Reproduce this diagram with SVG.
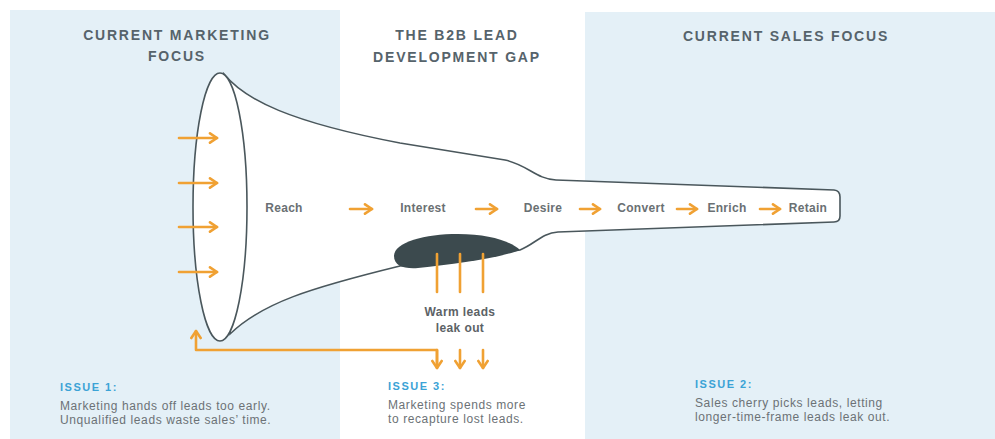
<svg xmlns="http://www.w3.org/2000/svg" width="995" height="439" viewBox="0 0 995 439">
<style>
.panel{fill:#e4f0f7}
.hdr{font-family:"Liberation Sans",Arial,sans-serif;font-weight:bold;font-size:14px;letter-spacing:1.8px;fill:#56636b;text-anchor:middle}
.stage{font-family:"Liberation Sans",Arial,sans-serif;font-weight:bold;font-size:12px;letter-spacing:0.3px;fill:#6a7073;text-anchor:middle}
.warm{font-family:"Liberation Sans",Arial,sans-serif;font-weight:bold;font-size:12px;letter-spacing:0.4px;fill:#5c6266;text-anchor:middle}
.issue{font-family:"Liberation Sans",Arial,sans-serif;font-weight:bold;font-size:11px;letter-spacing:1.5px;fill:#3ba3d6}
.body{font-family:"Liberation Sans",Arial,sans-serif;font-size:12px;letter-spacing:0.6px;fill:#6c7276}
.outline{fill:#ffffff;stroke:#4a575c;stroke-width:1.6}
.orange{fill:none;stroke:#f0a133;stroke-width:2.6;stroke-linecap:round;stroke-linejoin:round}
</style>
<defs>
<marker id="ah" viewBox="0 0 10 10" refX="8" refY="5" markerWidth="4.5" markerHeight="4.5" orient="auto" markerUnits="strokeWidth">
<polyline points="2,1 8,5 2,9" fill="none" stroke="#f0a133" stroke-width="2.2" stroke-linecap="round" stroke-linejoin="round"/>
</marker>
</defs>
<rect x="0" y="0" width="995" height="439" fill="#ffffff"/>
<g id="panels">
<rect class="panel" x="10" y="10" width="330" height="429"/>
<rect class="panel" x="585" y="12" width="410" height="427"/>
</g>
<g id="headers">
<text class="hdr" x="177" y="40">CURRENT MARKETING</text>
<text class="hdr" x="177" y="61">FOCUS</text>
<text class="hdr" x="457" y="40">THE B2B LEAD</text>
<text class="hdr" x="457" y="62">DEVELOPMENT GAP</text>
<text class="hdr" x="786" y="41">CURRENT SALES FOCUS</text>
</g>
<g id="funnel">
<path class="outline" d="M 224,74 C 245,100 290,122 400,143 L 505,160 C 528,165 536,179 556,180 L 834,190 Q 840,190.5 840,197 L 840,216 Q 840,222 834,222 L 558,232 C 542,233 535,244 520,250 L 400,266 C 310,288 262,303 230,334 Z"/>
<ellipse class="outline" cx="220" cy="207" rx="27" ry="134"/>
</g>
<g id="leak">
<path d="M 394,256 C 394,242 425,234 458,234 C 490,234 512,242 520,250 C 500,258 455,264 418,268 C 404,269 394,266 394,256 Z" fill="#3c4a4e"/>
</g>
<g id="stages">
<text class="stage" x="284" y="212">Reach</text>
<text class="stage" x="423" y="212">Interest</text>
<text class="stage" x="543" y="212">Desire</text>
<text class="stage" x="641" y="212">Convert</text>
<text class="stage" x="727" y="212">Enrich</text>
<text class="stage" x="808" y="212">Retain</text>
</g>
<g id="connectors">
<line class="orange" x1="179" y1="138" x2="217" y2="138" marker-end="url(#ah)"/>
<line class="orange" x1="179" y1="183" x2="217" y2="183" marker-end="url(#ah)"/>
<line class="orange" x1="179" y1="227" x2="217" y2="227" marker-end="url(#ah)"/>
<line class="orange" x1="179" y1="272" x2="217" y2="272" marker-end="url(#ah)"/>
<line class="orange" x1="350" y1="209" x2="372" y2="209" marker-end="url(#ah)"/>
<line class="orange" x1="476" y1="209" x2="497" y2="209" marker-end="url(#ah)"/>
<line class="orange" x1="580" y1="209" x2="600" y2="209" marker-end="url(#ah)"/>
<line class="orange" x1="677" y1="209" x2="697" y2="209" marker-end="url(#ah)"/>
<line class="orange" x1="760" y1="209" x2="780" y2="209" marker-end="url(#ah)"/>
<line class="orange" x1="437" y1="254" x2="437" y2="292"/>
<line class="orange" x1="460" y1="254" x2="460" y2="292"/>
<line class="orange" x1="483" y1="254" x2="483" y2="292"/>
<polyline class="orange" points="437,367 437,350 196,350 196,331" marker-end="url(#ah)"/>
<line class="orange" x1="437" y1="350" x2="437" y2="368" marker-end="url(#ah)"/>
<line class="orange" x1="460" y1="350" x2="460" y2="368" marker-end="url(#ah)"/>
<line class="orange" x1="483" y1="350" x2="483" y2="368" marker-end="url(#ah)"/>
</g>
<g id="warm-label">
<text class="warm" x="460" y="316">Warm leads</text>
<text class="warm" x="460" y="332">leak out</text>
</g>
<g id="issue1">
<text class="issue" x="60" y="391">ISSUE 1:</text>
<text class="body" x="60" y="410">Marketing hands off leads too early.</text>
<text class="body" x="60" y="424">Unqualified leads waste sales’ time.</text>
</g>
<g id="issue3">
<text class="issue" x="388" y="390">ISSUE 3:</text>
<text class="body" x="388" y="409">Marketing spends more</text>
<text class="body" x="388" y="423">to recapture lost leads.</text>
</g>
<g id="issue2">
<text class="issue" x="695" y="388">ISSUE 2:</text>
<text class="body" x="695" y="407">Sales cherry picks leads, letting</text>
<text class="body" x="695" y="421">longer-time-frame leads leak out.</text>
</g>
</svg>
